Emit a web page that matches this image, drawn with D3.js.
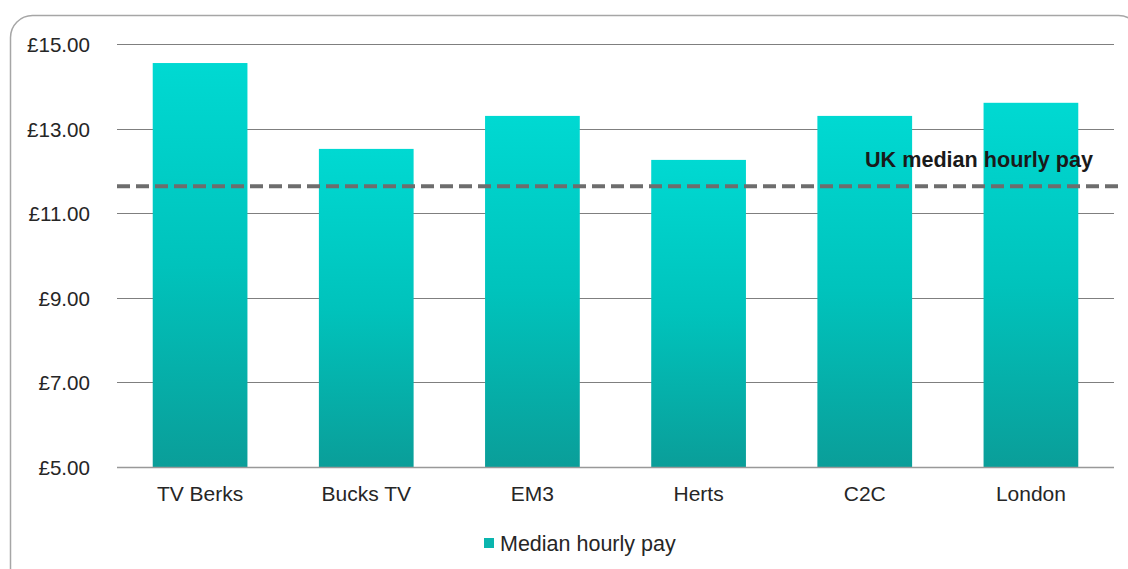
<!DOCTYPE html>
<html><head><meta charset="utf-8">
<script src="https://cdn.jsdelivr.net/npm/d3@7/dist/d3.min.js"></script>
<style>body{margin:0;background:#fff}svg{display:block}</style>
</head><body>
<svg id="c" width="1128" height="569"></svg>
<script>
const categories = ["TV Berks","Bucks TV","EM3","Herts","C2C","London"];
const values = [14.55, 12.52, 13.30, 12.26, 13.30, 13.61];
const ukMedian = 11.64;
const yTicks = [5,7,9,11,13,15];
const seriesName = "Median hourly pay";
const refLabel = "UK median hourly pay";

const svg = d3.select("#c");
const font = "'Liberation Sans', Arial, sans-serif";

svg.append("rect").attr("x",10.5).attr("y",15.5).attr("width",1130).attr("height",580)
  .attr("rx",22).attr("fill","#fff").attr("stroke","#a6a6a6").attr("stroke-width",1.5);

const defs = svg.append("defs");
const g = defs.append("linearGradient").attr("id","bg").attr("x1",0).attr("y1",0).attr("x2",0).attr("y2",1);
g.append("stop").attr("offset","0%").attr("stop-color","#00d9d2");
g.append("stop").attr("offset","50%").attr("stop-color","#00c3bc");
g.append("stop").attr("offset","100%").attr("stop-color","#0a9e99");

const x = d3.scaleBand().domain(categories).range([117,1114]).paddingInner(0.43).paddingOuter(0.215);
const y = d3.scaleLinear().domain([5,15]).range([467,44]);

// gridlines
svg.append("g").selectAll("line").data(yTicks.slice(1)).join("line")
  .attr("x1",117).attr("x2",1114).attr("y1",d=>Math.round(y(d))+0.5).attr("y2",d=>Math.round(y(d))+0.5)
  .attr("stroke","#7f7f7f").attr("stroke-width",1.2);

// y labels
svg.append("g").selectAll("text").data(yTicks).join("text")
  .attr("x",90).attr("y",d=>y(d)+8).attr("text-anchor","end")
  .attr("font-family",font).attr("font-size",20.6).attr("fill","#262626")
  .text(d=>"£"+d3.format(".2f")(d));

// bars
svg.append("g").selectAll("rect").data(values).join("rect")
  .attr("x",(d,i)=>x(categories[i])).attr("width",x.bandwidth())
  .attr("y",d=>y(d)).attr("height",d=>y(5)-y(d))
  .attr("fill","url(#bg)");

// axis line
svg.append("line").attr("x1",117).attr("x2",1114).attr("y1",467.5).attr("y2",467.5)
  .attr("stroke","#999").attr("stroke-width",1.5);

// x labels
svg.append("g").selectAll("text").data(categories).join("text")
  .attr("x",d=>x(d)+x.bandwidth()/2).attr("y",501).attr("text-anchor","middle")
  .attr("font-family",font).attr("font-size",21).attr("fill","#262626").text(d=>d);

// UK median dashed line
svg.append("line").attr("x1",117).attr("x2",1118).attr("y1",y(ukMedian)).attr("y2",y(ukMedian))
  .attr("stroke","#6d6d6d").attr("stroke-width",4).attr("stroke-dasharray","13,6");
svg.append("text").attr("x",1093).attr("y",167).attr("text-anchor","end")
  .attr("font-family",font).attr("font-size",21.6).attr("font-weight","bold").attr("fill","#1a1a1a").text(refLabel);

// legend
svg.append("rect").attr("x",484).attr("y",538).attr("width",10).attr("height",10).attr("fill","#0ab5ae");
svg.append("text").attr("x",500).attr("y",551).attr("font-family",font).attr("font-size",21.5).attr("fill","#262626").text(seriesName);
</script>
</body></html>
